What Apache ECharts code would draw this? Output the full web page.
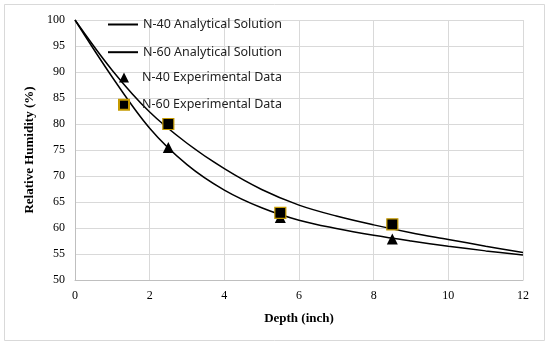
<!DOCTYPE html>
<html>
<head>
<meta charset="utf-8">
<script src="https://cdn.jsdelivr.net/npm/echarts@6/dist/echarts.min.js"></script>
<style>html,body{margin:0;padding:0;background:#fff}#c{width:550px;height:346px}</style>
</head>
<body>
<div id="c"></div>
<script>
// Analytical solution curves
var curveDepth = [0, 1, 2, 3, 4, 5, 6, 7, 8, 9, 10, 11, 12];
var n40Analytical = [100, 89.0, 79.2, 72.2, 67.3, 63.9, 61.5, 59.9, 58.6, 57.5, 56.5, 55.6, 54.8];
var n60Analytical = [100, 90.3, 82.3, 76.3, 71.4, 67.4, 64.4, 62.3, 60.6, 59.1, 57.8, 56.5, 55.3];
// Experimental data
var expDepth = [2.5, 5.5, 8.5];
var n40Experimental = [75.5, 62.0, 57.9];
var n60Experimental = [80.0, 62.9, 60.7];
// Axis
var xTicks = [0, 2, 4, 6, 8, 10, 12];
var yTicks = [50, 55, 60, 65, 70, 75, 80, 85, 90, 95, 100];

function pairs(xs, ys){ return xs.map(function(x,i){ return [x, ys[i]]; }); }

var chart = echarts.init(document.getElementById('c'));
var serif = 'Liberation Serif';
var legendFont = {fontFamily: 'Noto Sans', fontSize: 12.5, color: '#222'};
chart.setOption({
  animation: false,
  backgroundColor: '#fff',
  graphic: [{
    type: 'rect', shape: {x: 4.5, y: 4.5, width: 540, height: 336},
    style: {fill: 'none', stroke: '#d9d9d9', lineWidth: 1}, silent: true, z: -1
  }],
  grid: {left: 75, right: 27, top: 20, bottom: 66},
  xAxis: {
    type: 'value', min: xTicks[0], max: xTicks[xTicks.length-1], interval: 2,
    name: 'Depth (inch)', nameLocation: 'middle', nameGap: 32,
    nameTextStyle: {fontFamily: serif, fontWeight: 'bold', fontSize: 13, color: '#000'},
    axisLine: {lineStyle: {color: '#bfbfbf', width: 1}},
    axisTick: {show: false},
    axisLabel: {fontFamily: serif, fontSize: 12, color: '#000', margin: 10},
    splitLine: {show: true, lineStyle: {color: '#d9d9d9', width: 1}}
  },
  yAxis: {
    type: 'value', min: yTicks[0], max: yTicks[yTicks.length-1], interval: 5,
    name: 'Relative Humidity (%)', nameLocation: 'middle', nameGap: 34,
    nameTextStyle: {fontFamily: serif, fontWeight: 'bold', fontSize: 13, color: '#000'},
    axisLine: {show: true, lineStyle: {color: '#bfbfbf', width: 1}},
    axisTick: {show: false},
    axisLabel: {fontFamily: serif, fontSize: 12, color: '#000', margin: 10},
    splitLine: {show: true, lineStyle: {color: '#d9d9d9', width: 1}}
  },
  legend: [{
    orient: 'vertical', left: 107, top: 18, padding: 0,
    itemWidth: 30, itemHeight: 12, itemGap: 14.7,
    textStyle: legendFont,
    data: [
      {name: 'N-40 Analytical Solution', itemStyle: {opacity: 0}},
      {name: 'N-60 Analytical Solution', itemStyle: {opacity: 0}}
    ]
  }, {
    orient: 'vertical', left: 118, top: 71, padding: 0,
    itemWidth: 10, itemHeight: 10, itemGap: 14.3,
    textStyle: Object.assign({padding: [0, 0, 0, 8]}, legendFont),
    data: [
      {name: 'N-40 Experimental Data', icon: 'triangle'},
      {name: 'N-60 Experimental Data', icon: 'rect'}
    ]
  }],
  series: [
    {name: 'N-40 Analytical Solution', type: 'line', data: pairs(curveDepth, n40Analytical),
     smooth: 0.35, symbol: 'none', lineStyle: {color: '#000', width: 1.5}, itemStyle: {color: '#000'}},
    {name: 'N-60 Analytical Solution', type: 'line', data: pairs(curveDepth, n60Analytical),
     smooth: 0.35, symbol: 'none', lineStyle: {color: '#000', width: 1.5}, itemStyle: {color: '#000'}},
    {name: 'N-40 Experimental Data', type: 'scatter', data: pairs(expDepth, n40Experimental),
     symbol: 'triangle', symbolSize: 11, itemStyle: {color: '#000', opacity: 1}, z: 3},
    {name: 'N-60 Experimental Data', type: 'scatter', data: pairs(expDepth, n60Experimental),
     symbol: 'rect', symbolSize: 11, itemStyle: {color: '#000', opacity: 1, borderColor: '#c59a00', borderWidth: 1.2}, z: 4}
  ]
});
</script>
</body>
</html>
